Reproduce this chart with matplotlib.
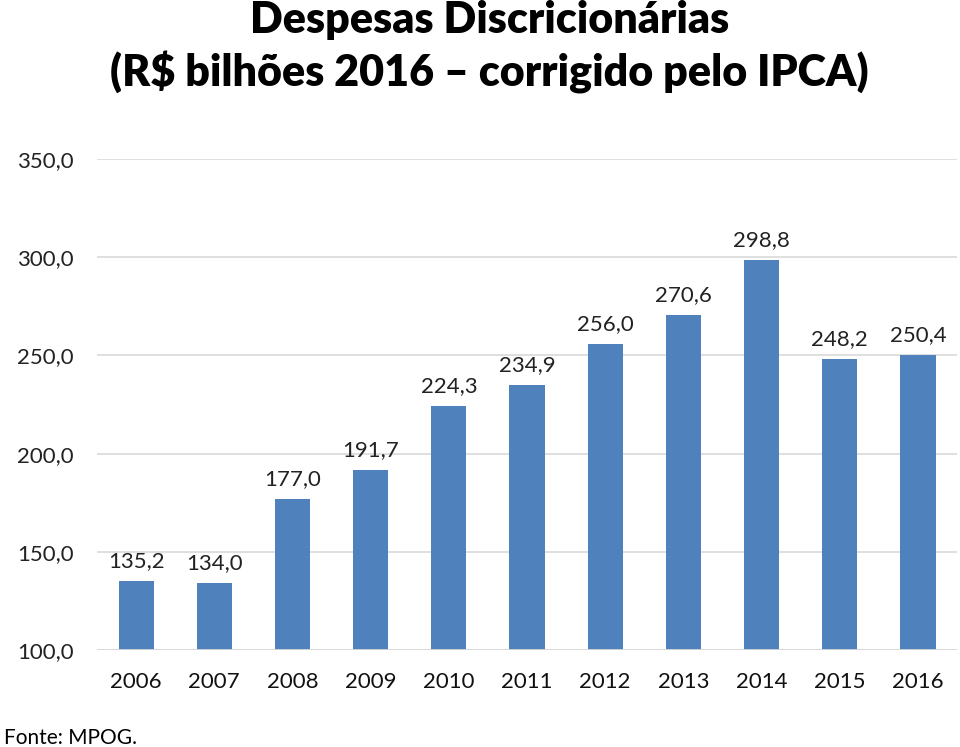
import matplotlib.pyplot as plt

anos = ["2006", "2007", "2008", "2009", "2010", "2011", "2012", "2013", "2014", "2015", "2016"]
despesas = [135.2, 134.0, 177.0, 191.7, 224.3, 234.9, 256.0, 270.6, 298.8, 248.2, 250.4]
yticks = [100, 150, 200, 250, 300, 350]

plt.rcParams['font.family'] = ['Lato', 'DejaVu Sans']

fig = plt.figure(figsize=(9.6, 7.47), dpi=100)
ax = fig.add_axes([97 / 960, 1 - 650 / 747, 860 / 960, 491 / 747])

x = range(len(anos))
ax.bar(x, despesas, width=0.45, bottom=0, color="#4F81BD", zorder=3)
for i, v in enumerate(despesas):
    ax.annotate(f"{v:.1f}".replace(".", ","), (i, v), xytext=(0, 7), textcoords="offset points",
                ha="center", va="bottom", fontsize=16, color="#222222")

ax.set_ylim(100, 350)
ax.set_xlim(-0.5, len(anos) - 0.5)
ax.set_yticks(yticks)
ax.set_yticklabels([f"{t:.1f}".replace(".", ",") for t in yticks], fontsize=16, color="#222222")
ax.set_xticks(list(x))
ax.set_xticklabels(anos, fontsize=16, color="#111111")
ax.tick_params(axis="y", length=0, pad=17)
ax.tick_params(axis="x", length=0, pad=15.5)
ax.grid(axis="y", color="#D9D9D9", linewidth=1.2, zorder=0)
ax.axhline(100, color="#D9D9D9", linewidth=2, zorder=4)
for s in ax.spines.values():
    s.set_visible(False)

fig.text(0.51, 1 - 20 / 747, "Despesas Discricionárias", ha="center", va="center",
         fontsize=31, fontweight="heavy")
fig.text(0.51, 1 - 73 / 747, "(R$ bilhões 2016 – corrigido pelo IPCA)", ha="center", va="center",
         fontsize=31, fontweight="heavy")
fig.text(0.004, 1 - 738 / 747, "Fonte: MPOG.", ha="left", va="center", fontsize=15)

fig.savefig("out.png", dpi=100)
